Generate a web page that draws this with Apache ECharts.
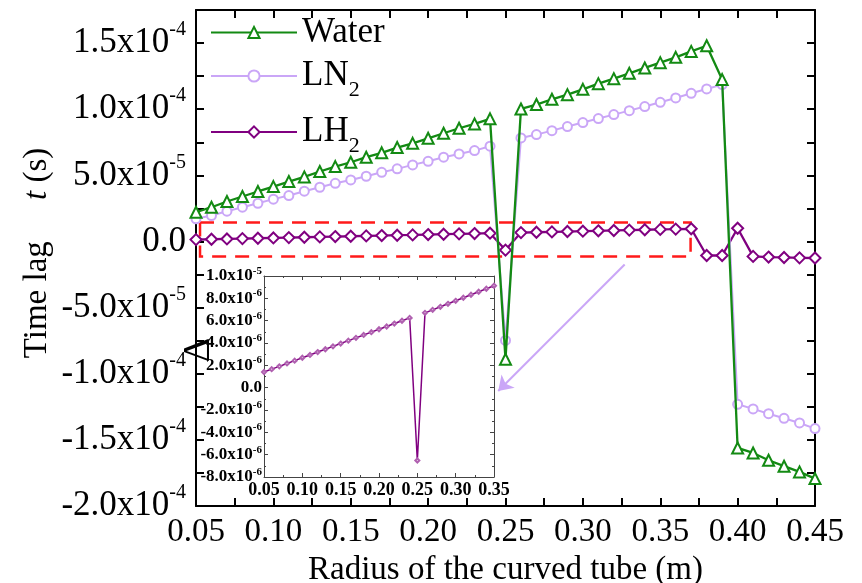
<!DOCTYPE html>
<html>
<head>
<meta charset="utf-8">
<script src="https://cdn.jsdelivr.net/npm/echarts@6/dist/echarts.min.js"></script>
<style>
  html, body { margin: 0; padding: 0; background: #fff; }
  #chart { width: 862px; height: 583px; }
</style>
</head>
<body>
<div id="chart"></div>
<script>
// radius of the curved tube (m)
const radius = [0.05, 0.06, 0.07, 0.08, 0.09, 0.10, 0.11, 0.12, 0.13, 0.14,
  0.15, 0.16, 0.17, 0.18, 0.19, 0.20, 0.21, 0.22, 0.23, 0.24,
  0.25, 0.26, 0.27, 0.28, 0.29, 0.30, 0.31, 0.32, 0.33, 0.34,
  0.35, 0.36, 0.37, 0.38, 0.39, 0.40, 0.41, 0.42, 0.43, 0.44, 0.45]

// time lag (s)
const water = [2.21e-5, 2.59e-5, 3.02e-5, 3.40e-5, 3.78e-5, 4.15e-5, 4.53e-5, 4.88e-5, 5.29e-5, 5.66e-5,
  5.99e-5, 6.37e-5, 6.70e-5, 7.10e-5, 7.42e-5, 7.80e-5, 8.18e-5, 8.56e-5, 8.89e-5, 9.27e-5,
  -8.9e-5, 1.002e-4, 1.035e-4, 1.075e-4, 1.110e-4, 1.150e-4, 1.193e-4, 1.231e-4, 1.271e-4, 1.312e-4,
  1.352e-4, 1.392e-4, 1.437e-4, 1.480e-4, 1.224e-4, -1.561e-4, -1.599e-4, -1.654e-4, -1.699e-4, -1.742e-4, -1.793e-4]
const ln2 = [1.71e-5, 1.96e-5, 2.29e-5, 2.59e-5, 2.89e-5, 3.20e-5, 3.47e-5, 3.80e-5, 4.10e-5, 4.40e-5,
  4.65e-5, 4.93e-5, 5.23e-5, 5.49e-5, 5.79e-5, 6.06e-5, 6.37e-5, 6.62e-5, 6.87e-5, 7.20e-5,
  -7.48e-5, 7.83e-5, 8.08e-5, 8.38e-5, 8.69e-5, 8.99e-5, 9.29e-5, 9.59e-5, 9.89e-5, 1.020e-4,
  1.052e-4, 1.085e-4, 1.120e-4, 1.153e-4, 1.186e-4, -1.231e-4, -1.266e-4, -1.302e-4, -1.337e-4, -1.372e-4, -1.415e-4]
const lh2 = [1.40e-6, 1.66e-6, 1.91e-6, 2.17e-6, 2.42e-6, 2.68e-6, 2.93e-6, 3.19e-6, 3.44e-6, 3.70e-6,
  3.95e-6, 4.21e-6, 4.46e-6, 4.72e-6, 4.97e-6, 5.23e-6, 5.48e-6, 5.74e-6, 5.99e-6, 6.25e-6,
  -6.52e-6, 6.70e-6, 6.97e-6, 7.24e-6, 7.51e-6, 7.78e-6, 8.05e-6, 8.32e-6, 8.59e-6, 8.86e-6,
  9.13e-6, 9.35e-6, 9.58e-6, -1.06e-5, -1.06e-5, 1.00e-5, -1.13e-5, -1.18e-5, -1.21e-5, -1.24e-5, -1.25e-5]

// tick labels
const xTickLabels = ['0.05', '0.10', '0.15', '0.20', '0.25', '0.30', '0.35', '0.40', '0.45']
const yTickLabels = ['-2.0x10^-4', '-1.5x10^-4', '-1.0x10^-4', '-5.0x10^-5', '0.0',
  '5.0x10^-5', '1.0x10^-4', '1.5x10^-4']
const insetXLabels = ['0.05', '0.10', '0.15', '0.20', '0.25', '0.30', '0.35']
const insetYLabels = ['-8.0x10^-6', '-6.0x10^-6', '-4.0x10^-6', '-2.0x10^-6', '0.0',
  '2.0x10^-6', '4.0x10^-6', '6.0x10^-6', '8.0x10^-6', '1.0x10^-5']

// zoom box and arrow (data coords)
const zoomBox = [[0.0526, 1.44e-5], [0.3696, -1.13e-5]]
const arrowFrom = [0.327, -1.74e-5]
const arrowTo = [0.2453, -1.131e-4]

const serif = "'Liberation Serif', 'Times New Roman', serif"
const cWater = '#138a13'
const cLN2 = '#caa6f7'
const cLH2 = '#800080'

function pairs (ys, n) {
  let out = []
  for (let i = 0; i < (n || ys.length); i++) out.push([radius[i], ys[i]])
  return out
}
function sci (s, m, e) {
  let p = s.split('^')
  return p.length > 1 ? '{' + m + '|' + p[0] + '}{' + e + '|' + p[1] + '}' : '{' + m + '|' + p[0] + '}'
}

let myChart = echarts.init(document.getElementById('chart'))

const mainAxisLine = { show: true, onZero: false, lineStyle: { color: '#000', width: 2 } }
const mainTick = { show: true, inside: true, length: 8, lineStyle: { color: '#000', width: 2 } }
const insetAxisLine = { show: true, onZero: false, lineStyle: { color: '#444', width: 1 } }
const insetTick = { show: true, inside: true, length: 4, lineStyle: { color: '#444', width: 1 } }
const insetMinor = { show: true, splitNumber: 2, length: 2, lineStyle: { color: '#444', width: 1 } }

function legendFor (name, top) {
  return {
    data: [name], left: 210, top: top, padding: 0,
    itemWidth: 86, itemHeight: 14,
    formatter: n => n === 'Water' ? '{a|Water}' : '{a|' + n.slice(0, 2) + '}{s|2}',
    textStyle: {
      rich: {
        a: { fontFamily: serif, fontSize: 35, color: '#000', lineHeight: 36 },
        s: { fontFamily: serif, fontSize: 22, color: '#000', lineHeight: 22, padding: [28, 0, 0, 0] }
      }
    }
  }
}

let option = {
  animation: false,
  backgroundColor: '#fff',
  legend: [legendFor('Water', 15), legendFor('LN2', 51), legendFor('LH2', 107)],
  grid: [
    { left: 196, right: 47, top: 10, bottom: 77, outerBoundsMode: 'none', containLabel: false },
    { left: 264, top: 276, width: 230, height: 201, show: true, backgroundColor: '#fff', borderWidth: 0,
      outerBoundsMode: 'none', containLabel: false }
  ],
  xAxis: [
    {
      type: 'value', gridIndex: 0, min: 0.05, max: 0.45, interval: 0.025,
      axisLine: mainAxisLine, axisTick: mainTick, splitLine: { show: false },
      axisLabel: {
        margin: 10, fontFamily: serif, fontSize: 33, color: '#000',
        formatter: (v, i) => i % 2 === 0 ? xTickLabels[i / 2] : ''
      },
      name: 'Radius of the curved tube (m)', nameLocation: 'middle', nameGap: 42,
      nameTextStyle: { fontFamily: serif, fontSize: 33, color: '#000' }
    },
    {
      type: 'value', gridIndex: 0, position: 'top', min: 0.05, max: 0.45, interval: 0.025,
      axisLine: mainAxisLine, axisTick: mainTick, axisLabel: { show: false }, splitLine: { show: false }
    },
    {
      type: 'value', gridIndex: 1, min: 0.05, max: 0.35, interval: 0.05,
      axisLine: insetAxisLine, axisTick: insetTick, minorTick: insetMinor, splitLine: { show: false },
      axisLabel: {
        margin: 4, fontFamily: serif, fontSize: 18, fontWeight: 'bold', color: '#000',
        showMinLabel: true, showMaxLabel: true,
        formatter: (v, i) => insetXLabels[i]
      }
    },
    {
      type: 'value', gridIndex: 1, position: 'top', min: 0.05, max: 0.35, interval: 0.05,
      axisLine: insetAxisLine, axisTick: insetTick, minorTick: insetMinor,
      axisLabel: { show: false }, splitLine: { show: false }
    }
  ],
  yAxis: [
    {
      type: 'value', gridIndex: 0, min: -2e-4, max: 1.75e-4, interval: 2.5e-5,
      axisLine: mainAxisLine, axisTick: mainTick, splitLine: { show: false },
      axisLabel: {
        margin: 10, color: '#000',
        formatter: (v, i) => i % 2 === 0 && yTickLabels[i / 2] ? sci(yTickLabels[i / 2], 'm', 'e') : '',
        rich: {
          m: { fontFamily: serif, fontSize: 35, color: '#000', lineHeight: 36 },
          e: { fontFamily: serif, fontSize: 20, color: '#000', lineHeight: 20, padding: [0, 0, 26, 0] }
        }
      }
    },
    {
      type: 'value', gridIndex: 0, position: 'right', min: -2e-4, max: 1.75e-4, interval: 2.5e-5,
      axisLine: mainAxisLine, axisTick: mainTick, axisLabel: { show: false }, splitLine: { show: false }
    },
    {
      type: 'value', gridIndex: 1, min: -8e-6, max: 1e-5, interval: 2e-6,
      axisLine: insetAxisLine, axisTick: insetTick, minorTick: insetMinor, splitLine: { show: false },
      axisLabel: {
        margin: 2, color: '#000', showMinLabel: true, showMaxLabel: true, hideOverlap: false,
        formatter: (v, i) => insetYLabels[i] ? sci(insetYLabels[i], 'm', 'e') : '',
        rich: {
          m: { fontFamily: serif, fontSize: 17, fontWeight: 'bold', color: '#000', lineHeight: 14 },
          e: { fontFamily: serif, fontSize: 11, fontWeight: 'bold', color: '#000', lineHeight: 4, padding: [0, 0, 10, 0] }
        }
      }
    },
    {
      type: 'value', gridIndex: 1, position: 'right', min: -8e-6, max: 1e-5, interval: 2e-6,
      axisLine: insetAxisLine, axisTick: insetTick, minorTick: insetMinor,
      axisLabel: { show: false }, splitLine: { show: false }
    }
  ],
  series: [
    {
      name: 'LH2', type: 'line', xAxisIndex: 0, yAxisIndex: 0, z: 3,
      data: pairs(lh2), symbol: 'emptyDiamond', symbolSize: 11,
      lineStyle: { color: cLH2, width: 2.3 }, itemStyle: { color: cLH2, borderWidth: 2 },
      markArea: {
        silent: true,
        itemStyle: { color: 'transparent', borderColor: '#ff1a1a', borderWidth: 2.5, borderType: [14, 9] },
        data: [[{ coord: zoomBox[0] }, { coord: zoomBox[1] }]]
      },
      markLine: {
        silent: true, symbol: ['none', 'arrow'], symbolSize: 14,
        label: { show: false },
        lineStyle: { color: cLN2, width: 2, type: 'solid' },
        data: [[{ coord: arrowFrom }, { coord: arrowTo }]]
      }
    },
    {
      name: 'LN2', type: 'line', xAxisIndex: 0, yAxisIndex: 0, z: 4,
      data: pairs(ln2), symbol: 'emptyCircle', symbolSize: 9,
      lineStyle: { color: cLN2, width: 2 }, itemStyle: { color: cLN2, borderWidth: 2 }
    },
    {
      name: 'Water', type: 'line', xAxisIndex: 0, yAxisIndex: 0, z: 5,
      data: pairs(water), symbol: 'emptyTriangle', symbolSize: 11,
      lineStyle: { color: cWater, width: 2.3 }, itemStyle: { color: cWater, borderWidth: 2 }
    },
    {
      name: 'LH2 inset', type: 'line', xAxisIndex: 2, yAxisIndex: 2, z: 6,
      data: pairs(lh2, 31), symbol: 'emptyDiamond', symbolSize: 4,
      lineStyle: { color: cLH2, width: 1.5 }, itemStyle: { color: '#b060b0', borderWidth: 1 }
    }
  ],
  graphic: [
    {
      type: 'text', x: 37, y: 253, rotation: Math.PI / 2,
      style: {
        text: '{a|Time lag     }{i|t}{a| (s)}',
        align: 'center', verticalAlign: 'middle',
        rich: {
          a: { fontFamily: serif, fontSize: 33, fill: '#000' },
          i: { fontFamily: serif, fontSize: 33, fontStyle: 'italic', fill: '#000' }
        }
      }
    },
    {
      type: 'text', x: 199, y: 350, rotation: Math.PI / 2,
      style: { text: '\u0394', font: '38px ' + serif, fill: '#000', align: 'center', verticalAlign: 'middle' }
    }
  ]
}
myChart.setOption(option)
</script>
</body>
</html>
